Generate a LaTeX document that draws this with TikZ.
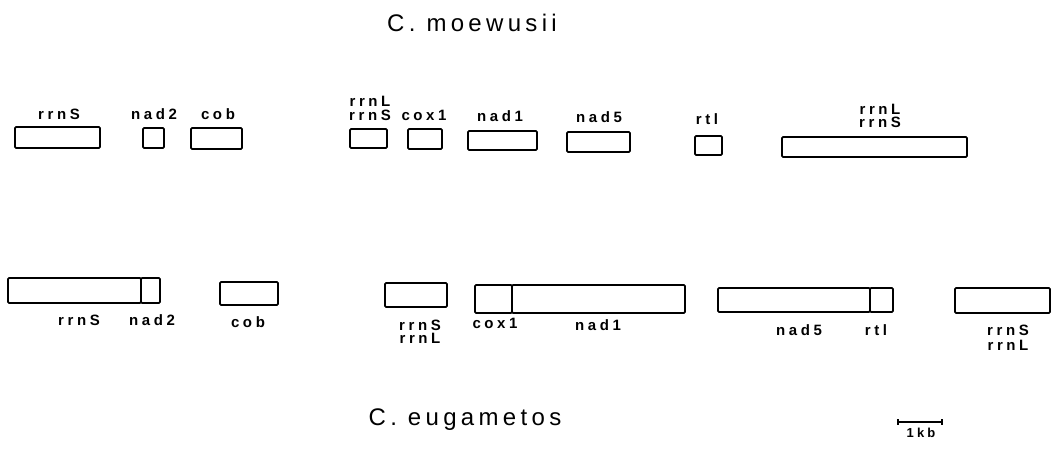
\documentclass[tikz,border=0pt]{standalone}
\usepackage{fontspec}
\usetikzlibrary{fit}
\newfontfamily\labfont[LetterSpace=24]{Liberation Sans}
\newfontfamily\titfont[LetterSpace=18]{Liberation Sans}
\tikzset{
  gene/.style={draw=black, line width=1.8pt, rounded corners=1.2pt, inner sep=0pt, fill=white},
  lab/.style={font=\labfont\bfseries\fontsize{15}{15}\selectfont, inner sep=0pt, anchor=base},
  ttl/.style={font=\titfont\fontsize{24}{24}\selectfont, inner sep=0pt, anchor=base},
  scl/.style={font=\labfont\bfseries\fontsize{13}{13}\selectfont, inner sep=0pt, anchor=base},
  bar/.style={line width=1.6pt}
}
\newcommand{\gbox}[5]{\node[gene, fit={(#2,#3) (#4,#5)}] (#1) {};}
\begin{document}
\begin{tikzpicture}[x=1pt,y=-1pt]
\useasboundingbox (0,0) rectangle (1058,449);
% titles
\node[ttl] (t1) at (472,32) {C. moewusii};
\node[ttl] (t2) at (465,425) {C. eugametos};
% top row
\gbox{a1}{15}{127}{100}{148}
\gbox{a2}{143}{128}{164}{148}
\gbox{a3}{191}{128}{242}{149}
\gbox{a4}{350}{129}{387}{148}
\gbox{a5}{408}{129}{442}{149}
\gbox{a6}{468}{131}{537}{150}
\gbox{a7}{567}{132}{630}{152}
\gbox{a8}{695}{136}{722}{155}
\gbox{a9}{782}{137}{967}{157}
\node[lab] (la1) at (59,120) {rrnS};
\node[lab] (la2) at (154,120) {nad2};
\node[lab] (la3) at (218,120) {cob};
\node[lab] (la4a) at (370,107) {rrnL};
\node[lab] (la4b) at (370,121) {rrnS};
\node[lab] (la5) at (424,121) {cox1};
\node[lab] (la6) at (500,122) {nad1};
\node[lab] (la7) at (599,123) {nad5};
\node[lab] (la8) at (707,125) {rtl};
\node[lab] (la9a) at (880,115) {rrnL};
\node[lab] (la9b) at (880,128) {rrnS};
% bottom row
\gbox{b1}{8}{278}{141}{303}
\gbox{b2}{141}{278}{160}{303}
\gbox{b3}{220}{282}{278}{305}
\gbox{b4}{385}{283}{447}{307}
\gbox{b5}{475}{285}{512}{313}
\gbox{b6}{512}{285}{685}{313}
\gbox{b7}{718}{288}{870}{312}
\gbox{b8}{870}{288}{893}{312}
\gbox{b9}{955}{288}{1050}{313}
\node[lab] (lb1) at (79,325) {rrnS};
\node[lab] (lb2) at (152,325) {nad2};
\node[lab] (lb3) at (248,327) {cob};
\node[lab] (lb4a) at (420,330) {rrnS};
\node[lab] (lb4b) at (420,343) {rrnL};
\node[lab] (lb5) at (495,328) {cox1};
\node[lab] (lb6) at (598,330) {nad1};
\node[lab] (lb7) at (799,335) {nad5};
\node[lab] (lb8) at (876,335) {rtl};
\node[lab] (lb9a) at (1008,335) {rrnS};
\node[lab] (lb9b) at (1008,350) {rrnL};
% scale bar
\coordinate (s1) at (898,422);
\coordinate (s2) at (942,422);
\draw[bar] (s1) -- (s2);
\draw[bar] ([yshift=3pt]s1) -- ([yshift=-3pt]s1);
\draw[bar] ([yshift=3pt]s2) -- ([yshift=-3pt]s2);
\node[scl] (sk) at (921,437) {1kb};
\end{tikzpicture}
\end{document}
